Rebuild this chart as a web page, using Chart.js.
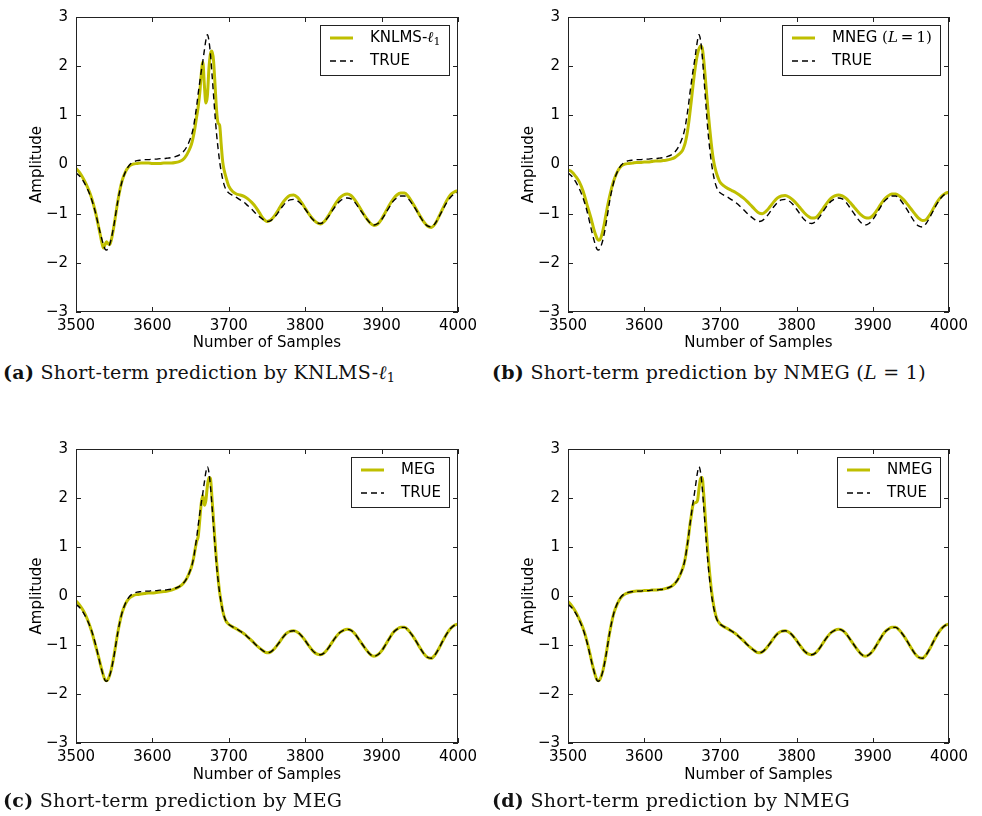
<!DOCTYPE html>
<html>
<head>
<meta charset="utf-8">
<script src="https://cdn.jsdelivr.net/npm/chart.js@4.4.1/dist/chart.umd.min.js"></script>
<style>
  body { margin: 0; background: #fff; width: 982px; height: 816px; position: relative; overflow: hidden; }
  canvas { position: absolute; }
  .caption { position: absolute; font-family: "DejaVu Serif", serif; font-size: 19px; letter-spacing: 0.3px; color: #111; white-space: nowrap; line-height: 22px; }
  .caption sub { font-size: 13px; vertical-align: -3px; line-height: 0; }
</style>
</head>
<body>
<canvas id="pa" width="490" height="360" style="left:0;top:0"></canvas>
<canvas id="pb" width="490" height="360" style="left:490px;top:0"></canvas>
<canvas id="pc" width="490" height="360" style="left:0;top:432px"></canvas>
<canvas id="pd" width="490" height="360" style="left:490px;top:432px"></canvas>

<div class="caption" style="left:3px;top:361px"><b>(a)</b> Short-term prediction by KNLMS-<i>ℓ</i><sub>1</sub></div>
<div class="caption" style="left:492px;top:361px"><b>(b)</b> Short-term prediction by NMEG (<i>L</i> = 1)</div>
<div class="caption" style="left:3px;top:789px"><b>(c)</b> Short-term prediction by MEG</div>
<div class="caption" style="left:492px;top:789px"><b>(d)</b> Short-term prediction by NMEG</div>

<script>
// sample index (denser around the dip and the main peak)
const samples = [
  3500, 3505, 3510, 3515, 3520, 3525,
  3530, 3532, 3534, 3536, 3538, 3540, 3542, 3544, 3546, 3548, 3550,
  3555, 3560, 3565, 3570, 3575, 3580, 3585, 3590, 3595, 3600, 3605, 3610, 3615, 3620, 3625, 3630, 3635, 3640, 3645, 3650,
  3652, 3654, 3656, 3658, 3660, 3662, 3664, 3666, 3668, 3670, 3672, 3674, 3676, 3678, 3680, 3682, 3684, 3686, 3688, 3690, 3692, 3694, 3696, 3698,
  3700, 3705, 3710, 3715, 3720, 3725, 3730, 3735, 3740, 3745,
  3750, 3755, 3760, 3765, 3770, 3775, 3780, 3785, 3790, 3795,
  3800, 3805, 3810, 3815, 3820, 3825, 3830, 3835, 3840, 3845,
  3850, 3855, 3860, 3865, 3870, 3875, 3880, 3885, 3890, 3895,
  3900, 3905, 3910, 3915, 3920, 3925, 3930, 3935, 3940, 3945,
  3950, 3955, 3960, 3965, 3970, 3975, 3980, 3985, 3990, 3995,
  4000
];

const trueSignal = [
  -0.17, -0.24, -0.35, -0.50, -0.69, -0.95,
  -1.28, -1.41, -1.53, -1.64, -1.72, -1.74, -1.71, -1.63, -1.52, -1.37, -1.20,
  -0.72, -0.36, -0.14, -0.01, 0.05, 0.08, 0.09, 0.10, 0.10, 0.11, 0.11, 0.12, 0.12, 0.13, 0.14, 0.16, 0.19, 0.25, 0.36, 0.54,
  0.64, 0.78, 0.98, 1.20, 1.45, 1.68, 1.90, 2.10, 2.32, 2.53, 2.64, 2.52, 2.24, 1.84, 1.42, 1.00, 0.62, 0.32, 0.06, -0.14, -0.30, -0.42, -0.50, -0.55,
  -0.58, -0.63, -0.67, -0.72, -0.77, -0.84, -0.91, -0.99, -1.06, -1.12,
  -1.16, -1.14, -1.07, -0.97, -0.86, -0.77, -0.72, -0.71, -0.74, -0.81,
  -0.91, -1.02, -1.12, -1.18, -1.20, -1.16, -1.07, -0.95, -0.84, -0.75,
  -0.70, -0.68, -0.70, -0.77, -0.88, -0.99, -1.10, -1.19, -1.23, -1.20,
  -1.12, -1.00, -0.87, -0.75, -0.68, -0.64, -0.64, -0.70, -0.80, -0.92,
  -1.05, -1.17, -1.25, -1.27, -1.20, -1.07, -0.92, -0.78, -0.67, -0.60,
  -0.57
];

const knlmsL1 = [
  -0.08, -0.17, -0.30, -0.46, -0.66, -0.94,
  -1.30, -1.45, -1.60, -1.70, -1.63, -1.57, -1.61, -1.63, -1.55, -1.40, -1.22,
  -0.72, -0.35, -0.14, -0.03, 0.01, 0.02, 0.03, 0.03, 0.03, 0.02, 0.02, 0.02, 0.03, 0.03, 0.03, 0.04, 0.06, 0.10, 0.20, 0.36,
  0.46, 0.60, 0.78, 0.98, 1.18, 1.45, 1.85, 2.08, 1.62, 1.25, 1.40, 1.95, 2.25, 2.31, 2.12, 1.62, 1.10, 0.84, 0.80, 0.42, 0.06, -0.12, -0.24, -0.35,
  -0.44, -0.55, -0.60, -0.62, -0.65, -0.70, -0.77, -0.86, -0.98, -1.10,
  -1.16, -1.13, -1.04, -0.92, -0.79, -0.69, -0.63, -0.62, -0.67, -0.77,
  -0.89, -1.01, -1.11, -1.18, -1.21, -1.16, -1.05, -0.92, -0.79, -0.68,
  -0.62, -0.60, -0.63, -0.72, -0.84, -0.97, -1.09, -1.19, -1.24, -1.21,
  -1.11, -0.97, -0.83, -0.71, -0.62, -0.58, -0.58, -0.65, -0.77, -0.90,
  -1.04, -1.16, -1.25, -1.28, -1.21, -1.06, -0.90, -0.74, -0.62, -0.56,
  -0.53
];

const mnegL1 = [
  -0.11, -0.15, -0.24, -0.36, -0.55, -0.82,
  -1.08, -1.20, -1.32, -1.42, -1.50, -1.54, -1.53, -1.45, -1.33, -1.18, -1.00,
  -0.62, -0.33, -0.14, -0.03, 0.01, 0.02, 0.03, 0.04, 0.04, 0.05, 0.05, 0.06, 0.07, 0.07, 0.08, 0.09, 0.11, 0.14, 0.20, 0.28,
  0.35, 0.45, 0.60, 0.80, 1.05, 1.32, 1.60, 1.86, 2.08, 2.25, 2.36, 2.41, 2.38, 2.15, 1.80, 1.42, 1.06, 0.73, 0.43, 0.18, 0.00, -0.13, -0.23, -0.31,
  -0.37, -0.44, -0.49, -0.53, -0.57, -0.62, -0.68, -0.75, -0.83, -0.91,
  -0.98, -1.00, -0.95, -0.86, -0.76, -0.68, -0.64, -0.63, -0.66, -0.72,
  -0.80, -0.89, -0.98, -1.05, -1.09, -1.08, -1.00, -0.89, -0.78, -0.69,
  -0.64, -0.62, -0.64, -0.69, -0.77, -0.86, -0.95, -1.03, -1.08, -1.09,
  -1.04, -0.94, -0.82, -0.71, -0.64, -0.60, -0.60, -0.64, -0.71, -0.80,
  -0.90, -1.00, -1.09, -1.14, -1.12, -1.02, -0.88, -0.75, -0.65, -0.59,
  -0.56
];

const meg = [
  -0.10, -0.19, -0.31, -0.48, -0.70, -0.98,
  -1.27, -1.40, -1.52, -1.63, -1.71, -1.73, -1.70, -1.62, -1.51, -1.36, -1.19,
  -0.72, -0.36, -0.15, -0.04, 0.01, 0.03, 0.04, 0.05, 0.06, 0.06, 0.07, 0.08, 0.09, 0.10, 0.12, 0.15, 0.19, 0.25, 0.36, 0.54,
  0.64, 0.78, 0.96, 1.12, 1.22, 1.55, 1.90, 2.05, 1.85, 1.95, 2.25, 2.42, 2.40, 2.00, 1.55, 1.10, 0.70, 0.36, 0.08, -0.12, -0.30, -0.42, -0.50, -0.55,
  -0.58, -0.63, -0.67, -0.72, -0.77, -0.84, -0.91, -0.99, -1.06, -1.12,
  -1.16, -1.14, -1.07, -0.97, -0.86, -0.77, -0.72, -0.71, -0.74, -0.81,
  -0.91, -1.02, -1.12, -1.18, -1.20, -1.16, -1.07, -0.95, -0.84, -0.75,
  -0.70, -0.68, -0.70, -0.77, -0.88, -0.99, -1.10, -1.19, -1.23, -1.20,
  -1.12, -1.00, -0.87, -0.75, -0.68, -0.64, -0.64, -0.70, -0.80, -0.92,
  -1.05, -1.17, -1.25, -1.27, -1.20, -1.07, -0.92, -0.78, -0.67, -0.60,
  -0.57
];

const nmeg = [
  -0.11, -0.20, -0.32, -0.48, -0.67, -0.93,
  -1.26, -1.40, -1.52, -1.63, -1.71, -1.73, -1.70, -1.62, -1.51, -1.36, -1.19,
  -0.72, -0.36, -0.15, -0.02, 0.04, 0.07, 0.09, 0.10, 0.10, 0.11, 0.11, 0.12, 0.12, 0.13, 0.14, 0.16, 0.19, 0.25, 0.36, 0.54,
  0.64, 0.78, 0.98, 1.20, 1.45, 1.66, 1.86, 1.90, 1.91, 1.95, 2.20, 2.40, 2.42, 2.10, 1.65, 1.20, 0.80, 0.45, 0.15, -0.08, -0.26, -0.40, -0.49, -0.54,
  -0.58, -0.63, -0.67, -0.72, -0.77, -0.84, -0.91, -0.99, -1.06, -1.12,
  -1.16, -1.14, -1.07, -0.97, -0.86, -0.77, -0.72, -0.71, -0.74, -0.81,
  -0.91, -1.02, -1.12, -1.18, -1.20, -1.16, -1.07, -0.95, -0.84, -0.75,
  -0.70, -0.68, -0.70, -0.77, -0.88, -0.99, -1.10, -1.19, -1.23, -1.20,
  -1.12, -1.00, -0.87, -0.75, -0.68, -0.64, -0.64, -0.70, -0.80, -0.92,
  -1.05, -1.17, -1.25, -1.27, -1.20, -1.07, -0.92, -0.78, -0.67, -0.60,
  -0.57
];

const xRange = [3500, 4000];
const yRange = [-3, 3];
const xStep = 100;
const yStep = 1;

const SANS = '"DejaVu Sans", sans-serif';
const SERIF = '"DejaVu Serif", serif';
const FONT_SIZE = 15;
const PRED_COLOR = '#bfbf00';
const TRUE_COLOR = '#000';

// legend labels are drawn as runs so the math bits can be italic serif
const sans = { font: FONT_SIZE + 'px ' + SANS };
const mathIt = { font: 'italic 15px ' + SERIF };
const mathRm = { font: '15px ' + SERIF };
const labelKnlms = [{ t: 'KNLMS-', ...sans }, { t: 'ℓ', ...mathIt }, { t: '1', font: '11px ' + SERIF, dy: 4 }];
const labelMneg = [{ t: 'MNEG ', ...sans }, { t: '(', ...mathRm }, { t: 'L', ...mathIt }, { t: '\u2009=\u2009', ...mathRm }, { t: '1', ...mathRm }, { t: ')', ...mathRm }];
const labelMeg = [{ t: 'MEG', ...sans }];
const labelNmeg = [{ t: 'NMEG', ...sans }];
const labelTrue = [{ t: 'TRUE', ...sans }];

function toPoints(values) {
    return samples.map(function (s, i) { return { x: s, y: values[i] }; });
}

function minusFmt(v) {
    return v < 0 ? '\u2212' + Math.abs(v) : String(v);
}

// box frame with inward ticks on all four sides, then the legend
const frameAndLegend = {
    id: 'frameAndLegend',
    afterDatasetsDraw(chart, args, opts) {
        const ctx = chart.ctx;
        const a = chart.chartArea;
        const xs = chart.scales.x, ys = chart.scales.y;
        ctx.save();
        ctx.strokeStyle = '#222';
        ctx.lineWidth = 1;
        ctx.strokeRect(a.left + 0.5, a.top + 0.5, a.right - a.left - 1, a.bottom - a.top - 1);
        ctx.beginPath();
        xs.ticks.forEach(function (t) {
            const px = Math.round(xs.getPixelForValue(t.value)) + 0.5;
            ctx.moveTo(px, a.bottom); ctx.lineTo(px, a.bottom - 5);
            ctx.moveTo(px, a.top); ctx.lineTo(px, a.top + 5);
        });
        ys.ticks.forEach(function (t) {
            const py = Math.round(ys.getPixelForValue(t.value)) + 0.5;
            ctx.moveTo(a.left, py); ctx.lineTo(a.left + 5, py);
            ctx.moveTo(a.right, py); ctx.lineTo(a.right - 5, py);
        });
        ctx.stroke();

        // legend
        const rows = opts.rows;
        ctx.textBaseline = 'middle';
        let maxW = 0;
        rows.forEach(function (segs) {
            let w = 0;
            segs.forEach(function (s) { ctx.font = s.font; w += ctx.measureText(s.t).width; });
            maxW = Math.max(maxW, w);
        });
        const boxW = Math.round(50 + maxW + 8);
        const boxH = 50;
        const bx = Math.round(a.right - 9 - boxW);
        const by = Math.round(a.top + 8);
        ctx.fillStyle = '#fff';
        ctx.fillRect(bx, by, boxW, boxH);
        ctx.strokeStyle = '#222';
        ctx.strokeRect(bx + 0.5, by + 0.5, boxW, boxH);
        rows.forEach(function (segs, i) {
            const ds = chart.data.datasets[i];
            const cy = by + 13 + i * 23;
            ctx.save();
            ctx.strokeStyle = ds.borderColor;
            ctx.lineWidth = ds.borderWidth;
            ctx.setLineDash(ds.borderDash || []);
            ctx.beginPath();
            ctx.moveTo(bx + 10, cy);
            ctx.lineTo(bx + 33, cy);
            ctx.stroke();
            ctx.restore();
            let tx = bx + 50;
            ctx.fillStyle = '#000';
            segs.forEach(function (s) {
                ctx.font = s.font;
                ctx.fillText(s.t, tx, cy + (s.dy || 0));
                tx += ctx.measureText(s.t).width;
            });
        });
        ctx.restore();
    }
};

function drawPanel(id, prediction, predLabel, box) {
    new Chart(document.getElementById(id), {
        type: 'line',
        data: {
            datasets: [
                {
                    data: toPoints(prediction),
                    borderColor: PRED_COLOR,
                    borderWidth: 3,
                    pointRadius: 0,
                    cubicInterpolationMode: 'monotone',
                    order: 1
                },
                {
                    data: toPoints(trueSignal),
                    borderColor: TRUE_COLOR,
                    borderWidth: 1.4,
                    borderDash: [6, 4],
                    pointRadius: 0,
                    cubicInterpolationMode: 'monotone',
                    order: 0
                }
            ]
        },
        options: {
            responsive: false,
            animation: false,
            layout: { padding: { left: 0, right: box.right, top: box.top, bottom: 0 } },
            plugins: {
                legend: { display: false },
                tooltip: { enabled: false },
                frameAndLegend: { rows: [predLabel, labelTrue] }
            },
            scales: {
                x: {
                    type: 'linear',
                    min: xRange[0],
                    max: xRange[1],
                    grid: { display: false, drawTicks: false },
                    border: { display: false },
                    ticks: {
                        stepSize: xStep, padding: 5, color: '#000', maxRotation: 0, autoSkip: false,
                        font: { family: SANS, size: FONT_SIZE }, callback: minusFmt
                    },
                    title: {
                        display: true, text: 'Number of Samples', color: '#000',
                        font: { family: SANS, size: FONT_SIZE }, padding: { top: 0, bottom: 8 }
                    },
                    afterFit: function (scale) { scale.height = box.xh; }
                },
                y: {
                    min: yRange[0],
                    max: yRange[1],
                    grid: { display: false, drawTicks: false },
                    border: { display: false },
                    ticks: {
                        stepSize: yStep, padding: 8, color: '#000',
                        font: { family: SANS, size: FONT_SIZE }, callback: minusFmt
                    },
                    title: {
                        display: true, text: 'Amplitude', color: '#000',
                        font: { family: SANS, size: FONT_SIZE }, padding: { top: box.titleOff, bottom: 0 }
                    },
                    afterFit: function (scale) { scale.width = box.left; }
                }
            }
        },
        plugins: [frameAndLegend]
    });
}

drawPanel('pa', knlmsL1, labelKnlms, { left: 76, right: 32, top: 16, xh: 48, titleOff: 28 });
drawPanel('pb', mnegL1, labelMneg, { left: 78, right: 31, top: 16, xh: 48, titleOff: 30 });
drawPanel('pc', meg, labelMeg, { left: 76, right: 32, top: 17, xh: 49, titleOff: 28 });
drawPanel('pd', nmeg, labelNmeg, { left: 78, right: 31, top: 17, xh: 49, titleOff: 30 });
</script>
</body>
</html>
